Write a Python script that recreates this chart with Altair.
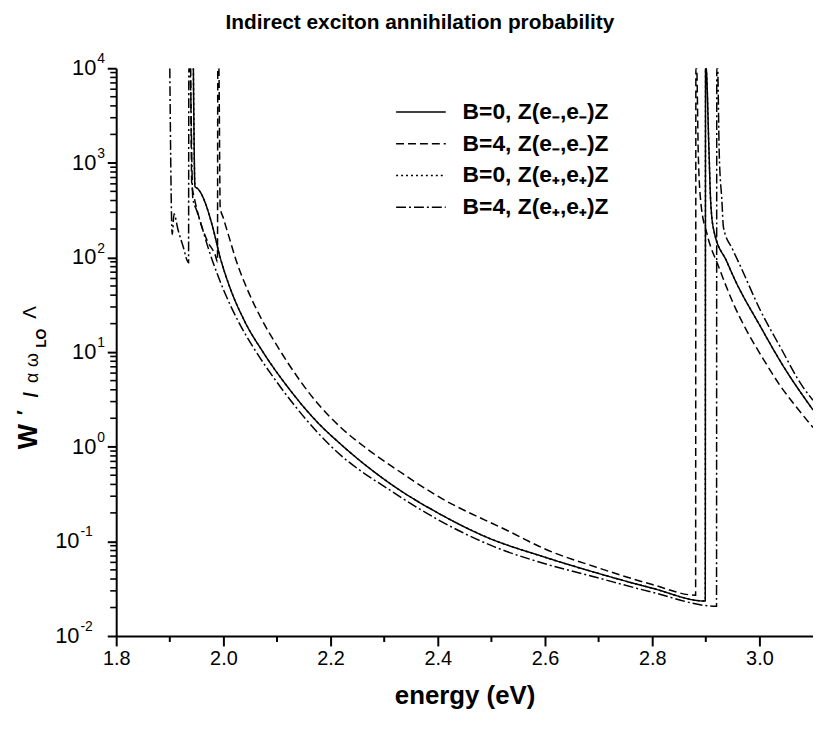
import altair as alt
import pandas as pd

# ---------------- data ----------------
series_names = [
    "B=0, Z(e\u208b,e\u208b)Z",
    "B=4, Z(e\u208b,e\u208b)Z",
    "B=0, Z(e\u208a,e\u208a)Z",
    "B=4, Z(e\u208a,e\u208a)Z",
]

solid_x = [1.944, 1.947, 1.951, 1.958, 1.966, 1.980, 1.994, 2.010, 2.040, 2.074,
           2.124, 2.174, 2.220, 2.322, 2.400, 2.489, 2.600, 2.693, 2.800, 2.899,
           2.8995, 2.9005, 2.906, 2.909, 2.915, 2.939, 2.952, 3.002, 3.044, 3.100]
solid_y = [10000, 560, 540, 480, 380, 210, 100, 52, 21, 10,
           4.0, 1.85, 1.05, 0.37, 0.20, 0.112, 0.068, 0.047, 0.032, 0.0234,
           10000, 10000, 1300, 400, 193, 91, 62, 18.6, 7.2, 2.45]

dashed_x = [1.939, 1.941, 1.946, 1.955, 1.970, 1.985, 1.989, 1.9895, 1.9915, 1.994,
            2.000, 2.013, 2.022, 2.044, 2.070, 2.100, 2.119, 2.174, 2.220, 2.265,
            2.322, 2.400, 2.535, 2.600, 2.693, 2.800, 2.881, 2.8815, 2.883, 2.886,
            2.891, 2.902, 2.924, 2.952, 2.976, 3.007, 3.039, 3.063, 3.100]
dashed_y = [10000, 600, 420, 260, 150, 105, 90, 10000, 10000, 340,
            260, 148, 100, 47, 23, 11.7, 7.9, 2.95, 1.58, 0.98,
            0.58, 0.30, 0.126, 0.083, 0.054, 0.035, 0.027, 10000, 10000, 1230,
            370, 180, 80, 32, 17, 8.5, 4.4, 2.9, 1.6]

# the two B=0 curves coincide for both polarisations
dotted_x = list(solid_x)
dotted_y = list(solid_y)

dashdot_x = [1.900, 1.9045, 1.908, 1.915, 1.925, 1.935, 1.9355, 1.9375, 1.943, 1.950,
             1.961, 1.970, 1.989, 2.000, 2.030, 2.059, 2.100, 2.174, 2.200, 2.322,
             2.400, 2.507, 2.600, 2.693, 2.800, 2.920, 2.9205, 2.922, 2.925, 2.930,
             2.933, 2.950, 2.965, 3.002, 3.039, 3.081, 3.100]
dashdot_y = [10000, 175, 290, 200, 130, 88, 10000, 10000, 420, 316,
             200, 135, 66, 46, 20, 10.5, 4.8, 1.45, 1.02, 0.316,
             0.17, 0.087, 0.058, 0.042, 0.029, 0.0206, 10000, 10000, 1300, 400,
             207, 122, 80, 27.5, 11.3, 4.3, 3.1]

x_major = [1.8, 2.0, 2.2, 2.4, 2.6, 2.8, 3.0]
x_minor = [1.9, 2.1, 2.3, 2.5, 2.7, 2.9]
y_exponents = [-2, -1, 0, 1, 2, 3, 4]

# ---------------- tables ----------------
rows = []
for name, xs, ys in zip(series_names,
                        [solid_x, dashed_x, dotted_x, dashdot_x],
                        [solid_y, dashed_y, dotted_y, dashdot_y]):
    for i, (a, b) in enumerate(zip(xs, ys)):
        rows.append({"series": name, "x": a, "y": b, "i": i})
df = pd.DataFrame(rows)

ylab = pd.DataFrame({"y": [10.0 ** e for e in y_exponents],
                     "e": [str(e) for e in y_exponents],
                     "neg": [e < 0 for e in y_exponents]})
y_major = [10.0 ** e for e in y_exponents]
y_minor = [k * 10.0 ** e for e in y_exponents[:-1] for k in range(2, 10)]
xminor_df = pd.DataFrame({"x": x_minor})
yminor_df = pd.DataFrame({"y": y_minor})

FONT = "Liberation Sans"
PLOT_H = 572
xscale = alt.Scale(domain=[1.8, 3.1], nice=False, zero=False)
yscale = alt.Scale(type="log", domain=[0.01, 10000], nice=False)
dash_scale = alt.Scale(domain=series_names,
                       range=[[1, 0], [8, 4], [2, 3], [10, 3, 2, 3]])

x_axis = alt.Axis(values=x_major, format=".1f", orient="bottom", grid=False,
                  labelFont=FONT, labelFontSize=20, labelColor="black",
                  labelPadding=3, labelFlush=False,
                  tickSize=10, tickWidth=2, tickColor="black",
                  domainWidth=2, domainColor="black",
                  title="energy (eV)", titleFont=FONT, titleFontSize=26,
                  titleFontWeight="bold", titleColor="black", titlePadding=14)
y_axis = alt.Axis(values=y_major, orient="left", grid=False, labels=False,
                  tickSize=9, tickWidth=2, tickColor="black",
                  domainWidth=2, domainColor="black", title=None)

X = alt.X("x:Q", scale=xscale, axis=x_axis)
Y = alt.Y("y:Q", scale=yscale, axis=y_axis)

legend = alt.Legend(orient="none", legendX=281, legendY=31, title=None,
                    symbolType="stroke", symbolSize=2500, symbolStrokeWidth=1.5,
                    symbolStrokeColor="black", labelFont=FONT, labelFontSize=23,
                    labelFontWeight="bold", labelColor="black", labelOffset=16,
                    labelLimit=400, clipHeight=26, rowPadding=6)

lines = alt.Chart(df).mark_line(color="black", strokeWidth=1.5,
                                interpolate="monotone", clip=True).encode(
    x=X, y=Y,
    strokeDash=alt.StrokeDash("series:N", scale=dash_scale, legend=legend,
                              sort=series_names),
    detail="series:N",
    order="i:Q",
)

x_minor_ticks = alt.Chart(xminor_df).mark_rule(color="black", strokeWidth=2).encode(
    x=X, y=alt.value(PLOT_H), y2=alt.value(PLOT_H + 6))
y_minor_ticks = alt.Chart(yminor_df).mark_rule(color="black", strokeWidth=1.6).encode(
    y=Y, x=alt.value(-6), x2=alt.value(0))


def ylabels(neg, x_ten, x_exp):
    base = alt.Chart(ylab).transform_filter(
        alt.datum.neg if neg else ~alt.datum.neg)
    ten = base.mark_text(font=FONT, fontSize=22, align="right",
                         baseline="middle", color="black").encode(
        x=alt.value(x_ten), y=Y, text=alt.value("10"))
    ex = base.mark_text(font=FONT, fontSize=14, align="left",
                        baseline="middle", dy=-9, color="black").encode(
        x=alt.value(x_exp), y=Y, text="e:N")
    return ten + ex


one = pd.DataFrame({"k": [0]})


def piece(txt, x, y, size, weight="normal"):
    return alt.Chart(one).mark_text(font=FONT, fontSize=size, fontWeight=weight,
                                    angle=270, align="center", baseline="middle",
                                    color="black").encode(
        x=alt.value(x), y=alt.value(y), text=alt.value(txt))


ytitle = (piece("W", -88, 371, 27, "bold")
          + piece("\u2032", -92, 347, 20, "bold")
          + piece("/", -85, 329, 20, "bold")
          + piece("\u03b1", -84, 312, 18)
          + piece("\u03c9", -84, 294, 18)
          + piece("LO", -75, 272, 14, "bold")
          + piece("\u039b", -87, 246, 19))

chart = alt.layer(
    lines, x_minor_ticks, y_minor_ticks,
    ylabels(False, -20, -19), ylabels(True, -37, -36), ytitle
).properties(
    width=702, height=PLOT_H,
    autosize=alt.AutoSizeParams(type="none"),
    padding={"left": 109, "top": 58, "right": 0, "bottom": 90},
    title=alt.TitleParams(text="Indirect exciton annihilation probability",
                          font=FONT, fontSize=21, fontWeight="bold",
                          color="black", anchor="middle", frame="bounds",
                          offset=20, dx=6),
).configure_view(stroke=None)

chart.save("out.html", embed_options={"renderer": "svg", "actions": False})
